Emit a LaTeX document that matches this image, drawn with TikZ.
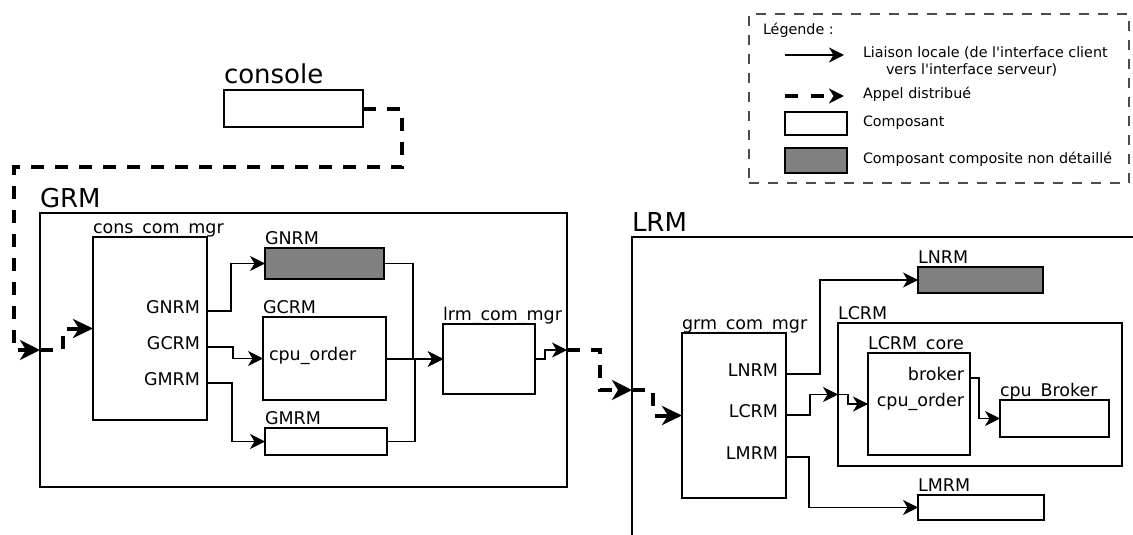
\documentclass[tikz,border=0pt]{standalone}
\usepackage{fontspec}
\newfontfamily\dejavu{DejaVu Sans}
\usetikzlibrary{arrows.meta}

\begin{document}
\begin{tikzpicture}[x=1pt,y=-1pt,
  every node/.style={inner sep=0pt, outer sep=0pt},
  comp/.style={draw=black, line width=1.2pt, fill=white, anchor=north west},
  compgray/.style={comp, fill=black!50},
  frame/.style={draw=black, line width=1.4pt, anchor=north west},
  lbl/.style={font=\dejavu\fontsize{17.5pt}{20pt}\selectfont, anchor=base west, yshift=4pt},
  biglbl/.style={font=\dejavu\fontsize{26pt}{30pt}\selectfont, anchor=base west, yshift=6pt},
  portl/.style={font=\dejavu\fontsize{17.5pt}{20pt}\selectfont, anchor=mid east},
  inl/.style={font=\dejavu\fontsize{17.5pt}{20pt}\selectfont, anchor=mid west},
  legtxt/.style={font=\dejavu\fontsize{14.3pt}{16pt}\selectfont, anchor=mid west},
  link/.style={draw=black, line width=1.2pt, -{Stealth[length=15pt,width=15pt,inset=4.5pt]}},
  distrib/.style={draw=black, line width=4pt, dash pattern=on 13pt off 11pt,
    -{Stealth[length=20pt,width=20pt,inset=6pt]}},
  distribin/.style={distrib, -{Stealth[length=20pt,width=19pt,inset=6pt]}},
]
\useasboundingbox (0,0) rectangle (1133,535);
\clip (0,0) rectangle (1133,535);
\fill[white] (0,0) rectangle (1133,535);

% ---------------- console ----------------
\node[comp, minimum width=139pt, minimum height=37pt] (console) at (224,90) {};
\node[biglbl] (consolelbl) at (console.north west) {console};

% ---------------- GRM ----------------
\node[frame, minimum width=527pt, minimum height=274pt] (grm) at (40,213) {};
\node[biglbl] (grmlbl) at (grm.north west) {GRM};

\node[comp, minimum width=114pt, minimum height=183pt] (ccm) at (93,237) {};
\node[lbl] (ccmlbl) at (ccm.north west) {cons\_com\_mgr};
\node[portl] (pgn) at (200,311) {GNRM};
\node[portl] (pgc) at (200,347) {GCRM};
\node[portl] (pgm) at (200,383) {GMRM};

\node[compgray, minimum width=119pt, minimum height=31pt] (gnrm) at (265,248) {};
\node[lbl] (gnrmlbl) at (gnrm.north west) {GNRM};

\node[comp, minimum width=123pt, minimum height=83pt] (gcrm) at (263,317) {};
\node[lbl] (gcrmlbl) at (gcrm.north west) {GCRM};
\node[inl] (gcpu) at (269,358) {cpu\_order};

\node[comp, minimum width=122pt, minimum height=27pt] (gmrm) at (265,428) {};
\node[lbl] (gmrmlbl) at (gmrm.north west) {GMRM};

\node[comp, minimum width=92pt, minimum height=70pt] (lrm) at (443,324) {};
\node[lbl] (lrmlbl) at (lrm.north west) {lrm\_com\_mgr};

% ---------------- LRM ----------------
\node[frame, minimum width=600pt, minimum height=400pt] (lrmf) at (632,237) {};
\node[biglbl] (lrmflbl) at (lrmf.north west) {LRM};

\node[comp, minimum width=104pt, minimum height=165pt] (gcm) at (682,333) {};
\node[lbl] (gcmlbl) at (gcm.north west) {grm\_com\_mgr};
\node[portl] (pln) at (778,374) {LNRM};
\node[portl] (plc) at (778,415) {LCRM};
\node[portl] (plm) at (778,457) {LMRM};

\node[compgray, minimum width=125pt, minimum height=26pt] (lnrm) at (918,267) {};
\node[lbl] (lnrmlbl) at (lnrm.north west) {LNRM};

\node[comp, minimum width=284pt, minimum height=143pt] (lcrm) at (838,323) {};
\node[lbl] (lcrmlbl) at (lcrm.north west) {LCRM};

\node[comp, minimum width=102pt, minimum height=102pt] (core) at (868,353) {};
\node[lbl] (corelbl) at (core.north west) {LCRM\_core};
\node[portl] (pbr) at (964,378) {broker};
\node[portl] (pco) at (964,404) {cpu\_order};

\node[comp, minimum width=109pt, minimum height=37pt] (cpub) at (1000,400) {};
\node[lbl] (cpublbl) at (cpub.north west) {cpu\_Broker};

\node[comp, minimum width=126pt, minimum height=25pt] (lmrm) at (918,495) {};
\node[lbl] (lmrmlbl) at (lmrm.north west) {LMRM};

% ---------------- local bindings ----------------
\draw[link] (ccm.east |- pgn.mid) -- ++(24,0) |- (gnrm.west);
\draw[link] (ccm.east |- pgc.mid) -- ++(26,0) |- (gcrm.west);
\draw[link] (ccm.east |- pgm.mid) -- ++(25,0) |- (gmrm.west);

\draw[link] (gnrm.east) -- ++(29,0) |- (lrm.west);
\draw[link] (gcrm.east |- lrm.west) -- (lrm.west);
\draw[link] (gmrm.east) -- ++(28,0) |- (lrm.west);

\coordinate (gout) at (567,350);
\draw[link] (lrm.east) -- ++(10,0) |- (gout);

\draw[link] (gcm.east |- pln.mid) -- ++(34,0) |- (lnrm.west);
\draw[link] (gcm.east |- plc.mid) -- ++(24,0) |- (lcrm.west);
\draw[link] (lcrm.west) -- ++(10,0) |- (core.west);
\draw[link] (gcm.east |- plm.mid) -- ++(23,0) |- (lmrm.west);
\draw[link] (core.east |- pbr.mid) -- ++(9,0) |- (cpub.west);

% ---------------- distributed calls ----------------
\coordinate (d1) at (402,167);
\coordinate (d2) at (14,350);
\coordinate (gin) at (40,350);
\coordinate (d3) at (63,350);
\draw[distrib] (console.east) -| (d1) -| (d2) -- (gin);
\draw[distribin] (gin) -- (d3) |- (ccm.west);

\coordinate (d4) at (600,350);
\coordinate (lin) at (632,390);
\coordinate (d5) at (653,390);
\draw[distrib] (gout) -- (d4) |- (lin);
\draw[distribin] (lin) -- (d5) |- (gcm.west);

% ---------------- legend ----------------
\node[draw=black!70, line width=1.2pt, dash pattern=on 10pt off 9pt, anchor=north west,
  minimum width=380pt, minimum height=169pt] (legend) at (749,14) {};
\node[legtxt] (legtitle) at (763,32) {Légende :};

\coordinate (la1) at (785,55);
\coordinate (la2) at (844,55);
\draw[link, line width=2.2pt] (la1) -- (la2);
\node[legtxt] (legl1) at (863,55) {Liaison locale (de l'interface client};
\node[legtxt] (legl2) at (886,72) {vers l'interface serveur)};

\coordinate (lb1) at (785,96);
\coordinate (lb2) at (844,96);
\draw[draw=black, line width=3.5pt, dash pattern=on 13pt off 13pt,
  -{Stealth[length=15pt,width=15pt,inset=4.5pt]}] (lb1) -- (lb2);
\node[legtxt] (legd) at (863,96) {Appel distribué};

\node[comp, minimum width=62pt, minimum height=23pt] (legc) at (785,112) {};
\node[legtxt] (legct) at (863,124) {Composant};

\node[compgray, minimum width=62pt, minimum height=25pt] (legg) at (785,148) {};
\node[legtxt] (leggt) at (863,161) {Composant composite non détaillé};
\end{tikzpicture}
\end{document}
